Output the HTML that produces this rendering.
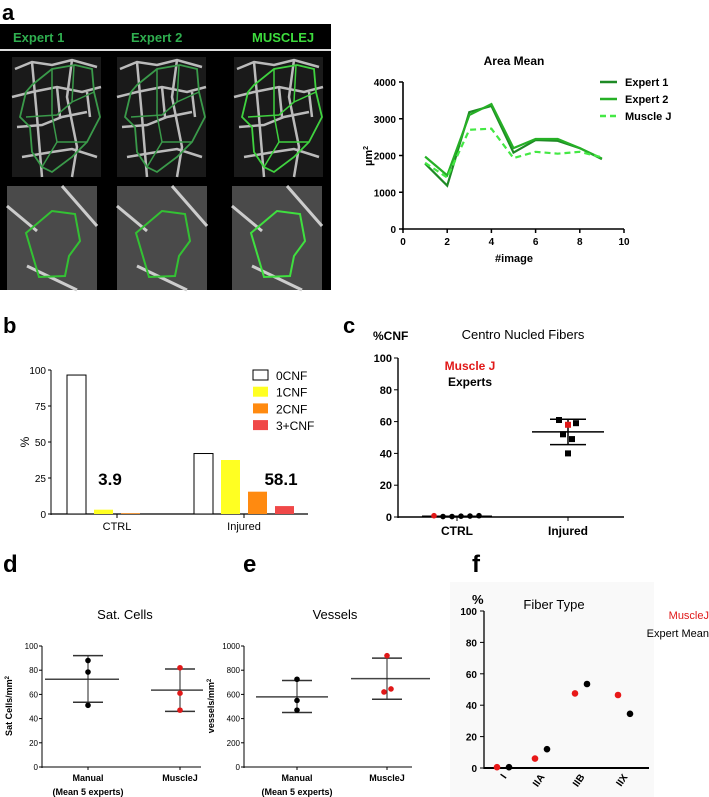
<!DOCTYPE html>
<html><head><meta charset="utf-8">
<style>
html,body{margin:0;padding:0;background:#fff;}
svg{display:block;font-family:"Liberation Sans",sans-serif;}
.n{font-family:"Liberation Sans Narrow","Liberation Sans",sans-serif;}
</style></head>
<body>
<svg id="fig" width="709" height="797" viewBox="0 0 709 797" xmlns="http://www.w3.org/2000/svg">
<g>
<text x="2" y="20" font-size="22" font-weight="bold">a</text>
<rect x="0" y="24" width="331" height="266" fill="#000"/>
<rect x="0" y="49" width="331" height="2" fill="#ddd"/>
<text x="13" y="42" font-size="13" font-weight="bold" fill="#2fae4f">Expert 1</text>
<text x="131" y="42" font-size="13" font-weight="bold" fill="#2fae4f">Expert 2</text>
<text x="252" y="42" font-size="13" font-weight="bold" fill="#3ddc3d">MUSCLEJ</text>
<g id="imgs"></g>
</g>
<g id="charts"></g>
</svg>
<script>
// ---------- DATA ----------
const areaImages=[1,2,3,4,5,6,7,8,9];
const areaExpert1=[1780,1180,3180,3350,2080,2420,2400,2200,1900];
const areaExpert2=[1970,1460,3100,3400,2200,2450,2450,2200,1920];
const areaMuscleJ=[1800,1400,2700,2730,1930,2100,2050,2100,1950];
const areaYTicks=[0,1000,2000,3000,4000];
const areaXTicks=[0,2,4,6,8,10];

const cnfGroups=["CTRL","Injured"];
const cnfSeries=["0CNF","1CNF","2CNF","3+CNF"];
const cnfCtrl=[96.5,3,0.5,0];
const cnfInjured=[42,37.5,15.5,5.5];
const cnfYTicks=[0,25,50,75,100];
const cnfAnnot=["3.9","58.1"];

const cnfPctCtrlExperts=[0.3,0.3,0.5,0.6,0.8];
const cnfPctCtrlMJ=[0.8];
const cnfPctInjExperts=[61,59,52,49,40];
const cnfPctInjMJ=[58];
const cnfPctMean=[0.5,53.5];
const cnfPctSd=[0.3,8];
const cnfPctYTicks=[0,20,40,60,80,100];

const satGroups=["Manual","MuscleJ"];
const satManual=[88,78.5,51];
const satMuscleJ=[82,61,47];
const satMean=[72.5,63.5];
const satErrHi=[92,81];
const satErrLo=[53.5,46];
const satYTicks=[0,20,40,60,80,100];

const vesManual=[725,550,470];
const vesMuscleJ=[920,620,645];
const vesMean=[580,730];
const vesErrHi=[715,900];
const vesErrLo=[450,560];
const vesYTicks=[0,200,400,600,800,1000];

const fiberTypes=["I","IIA","IIB","IIX"];
const fiberMuscleJ=[0.5,6,47.5,46.5];
const fiberExpert=[0.5,12,53.5,34.5];
const fiberYTicks=[0,20,40,60,80,100];

// ---------- helpers ----------
const NS="http://www.w3.org/2000/svg";
const root=document.getElementById('charts');
function mk(tag,attrs,parent,text){const e=document.createElementNS(NS,tag);for(const k in attrs)e.setAttribute(k,attrs[k]);if(text!==undefined)e.textContent=text;(parent||root).appendChild(e);return e;}
function lin(d0,d1,r0,r1){return v=>r0+(v-d0)*(r1-r0)/(d1-d0);}

// ---------- panel a images ----------
const imgs=document.getElementById('imgs');
const topX=[12,117,234];
const greens=["#3a9a4a","#3a9a4a","#3fd23f"];
topX.forEach((x,i)=>{
  const r=mk('rect',{x:x,y:57,width:89,height:120,fill:'#1a1a1a'},imgs);
  
  
  const X=v=>x+v,Y=v=>57+v;
  const segs=[[[3,12],[20,5],[40,8],[60,3],[85,10]],[[0,40],[20,35],[45,30],[70,35],[89,30]],[[5,70],[30,68],[50,60],[75,55]],[[10,100],[40,95],[60,92],[85,100]],[[20,5],[25,60],[30,120]],[[60,3],[55,40],[65,90],[60,120]],[[45,30],[48,60]],[[75,35],[78,60]]];
  segs.forEach(s=>{mk('polyline',{points:s.map(p=>X(p[0])+','+Y(p[1])).join(' '),fill:'none',stroke:'#bbb','stroke-width':2.5},imgs);});
  const g=[[20,28],[40,12],[63,8],[80,12],[82,35],[88,60],[75,85],[60,100],[40,115],[30,110],[20,95],[18,70],[8,60],[14,35]];
  mk('polygon',{points:g.map(p=>X(p[0])+','+Y(p[1])).join(' '),fill:'none',stroke:greens[i],'stroke-width':1.8},imgs);
  mk('polyline',{points:[[14,60],[45,58],[60,45],[82,35]].map(p=>X(p[0])+','+Y(p[1])).join(' '),fill:'none',stroke:greens[i],'stroke-width':1.5},imgs);
  mk('polyline',{points:[[40,12],[40,58],[45,85],[30,110]].map(p=>X(p[0])+','+Y(p[1])).join(' '),fill:'none',stroke:greens[i],'stroke-width':1.5},imgs);
  mk('polyline',{points:[[60,45],[62,8]].map(p=>X(p[0])+','+Y(p[1])).join(' '),fill:'none',stroke:greens[i],'stroke-width':1.5},imgs);
  mk('polyline',{points:[[45,85],[75,85]].map(p=>X(p[0])+','+Y(p[1])).join(' '),fill:'none',stroke:greens[i],'stroke-width':1.5},imgs);
});
const botX=[7,117,232];
botX.forEach((x,i)=>{
  const r=mk('rect',{x:x,y:186,width:90,height:104,fill:'#4a4a4a'},imgs);
  
  
  mk('path',{d:`M${x} ${186+20} L${x+30} ${186+45} M${x+55} ${186} L${x+90} ${186+40} M${x+20} ${186+80} L${x+70} ${186+104}`,stroke:'#ccc','stroke-width':3,fill:'none'},imgs);
  const g=[[19,47],[45,25],[68,28],[73,55],[62,70],[58,90],[32,91]];
  mk('polygon',{points:g.map(p=>(x+p[0])+','+(186+p[1])).join(' '),fill:'none',stroke:i==2?'#3fe03f':'#33c233','stroke-width':2},imgs);
});

// ---------- Area Mean ----------
(function(){
  const g=mk('g',{});
  
  
  const x=lin(0,10,403,624), y=lin(0,4000,229,82);
  mk('text',{x:514,y:65,'text-anchor':'middle','font-size':12,'font-weight':'bold'},g,'Area Mean');
  mk('line',{x1:403,y1:82,x2:403,y2:230,stroke:'#000','stroke-width':1.6},g);
  mk('line',{x1:402,y1:229,x2:624,y2:229,stroke:'#000','stroke-width':1.6},g);
  areaYTicks.forEach(t=>{mk('line',{x1:399,x2:403,y1:y(t),y2:y(t),stroke:'#000','stroke-width':1.5},g);
    const tl=mk('text',{x:396,y:y(t)+4,'text-anchor':'end','font-size':10,'font-weight':'bold'},g,String(t));
    });
  areaXTicks.forEach(t=>{mk('line',{x1:x(t),x2:x(t),y1:229,y2:233,stroke:'#000','stroke-width':1.5},g);
    const tl=mk('text',{x:x(t),y:245,'text-anchor':'middle','font-size':10,'font-weight':'bold'},g,String(t));
    });
  mk('text',{x:514,y:262,'text-anchor':'middle','font-size':11,'font-weight':'bold'},g,'#image');
  const yl=mk('text',{x:0,y:0,transform:'translate(372,156) rotate(-90)','text-anchor':'middle','font-size':11,'font-weight':'bold'},g);
  yl.innerHTML='µm<tspan dy="-4" font-size="7">2</tspan>';
  const series=[[areaExpert1,'#1e8a25',''],[areaExpert2,'#26b026',''],[areaMuscleJ,'#44e844','6,4']];
  series.forEach((s,i)=>{const p=mk('polyline',{points:s[0].map((v,j)=>x(areaImages[j])+','+y(v)).join(' '),fill:'none',stroke:s[1],'stroke-width':2.2,'stroke-dasharray':s[2]||'none'},g);
    });
  const names=['Expert 1','Expert 2','Muscle J'];
  names.forEach((n,i)=>{const ly=82+i*17;mk('line',{x1:600,x2:617,y1:ly,y2:ly,stroke:series[i][1],'stroke-width':2.5,'stroke-dasharray':series[i][2]||'none'},g);
    const t=mk('text',{x:625,y:ly+4,'font-size':11,'font-weight':'bold'},g,n);});
})();

// ---------- Panel b ----------
(function(){
  const g=mk('g',{class:'n'});
  
  
  mk('text',{x:3,y:333,'font-size':22,'font-weight':'bold','font-family':'Liberation Sans'},g,'b');
  const y=lin(0,100,514,370);
  mk('line',{x1:51,y1:370,x2:51,y2:515,stroke:'#000','stroke-width':1},g);
  mk('line',{x1:51,y1:514,x2:308,y2:514,stroke:'#000','stroke-width':1.2},g);
  cnfYTicks.forEach(t=>{mk('line',{x1:48,x2:51,y1:y(t),y2:y(t),stroke:'#000'},g);
    mk('text',{x:46,y:y(t)+4,'text-anchor':'end','font-size':10},g,String(t));});
  mk('text',{x:0,y:0,transform:'translate(29,442) rotate(-90)','text-anchor':'middle','font-size':12},g,'%');
  const cols=['#fff','#ffff22','#ff8a10','#f04848'];
  const groupX=[67,194], bw=19, step=27;
  [cnfCtrl,cnfInjured].forEach((vals,gi)=>{
    vals.forEach((v,si)=>{const bx=groupX[gi]+si*step;const r=mk('rect',{x:bx,y:y(v),width:bw,height:514-y(v),fill:cols[si],stroke:si==0?'#000':'none','stroke-width':1},g);
      });
    mk('line',{x1:groupX[gi]+50,x2:groupX[gi]+50,y1:514,y2:518,stroke:'#000'},g);
    mk('text',{x:groupX[gi]+50,y:530,'text-anchor':'middle','font-size':11},g,cnfGroups[gi]);
  });
  mk('text',{x:110,y:485,'text-anchor':'middle','font-size':17,'font-weight':'bold'},g,cnfAnnot[0]);
  mk('text',{x:281,y:485,'text-anchor':'middle','font-size':17,'font-weight':'bold'},g,cnfAnnot[1]);
  cnfSeries.forEach((s,i)=>{const ly=370+i*16.7;mk('rect',{x:253,y:ly,width:15,height:10,fill:cols[i],stroke:i==0?'#000':'none'},g);
    const t=mk('text',{x:276,y:ly+10,'font-size':12},g,s);});
})();

// ---------- Panel c ----------
(function(){
  const g=mk('g',{class:'n'});
  
  
  mk('text',{x:343,y:333,'font-size':22,'font-weight':'bold','font-family':'Liberation Sans'},g,'c');
  mk('text',{x:373,y:340,'font-size':12,'font-weight':'bold'},g,'%CNF');
  mk('text',{x:523,y:339,'text-anchor':'middle','font-size':13,'font-family':'Liberation Sans'},g,'Centro Nucled Fibers');
  const y=lin(0,100,517,358);
  const cx=[457,568];
  mk('line',{x1:398,y1:358,x2:398,y2:518,stroke:'#000','stroke-width':1.4},g);
  mk('line',{x1:398,y1:517,x2:624,y2:517,stroke:'#000','stroke-width':1.6},g);
  cnfPctYTicks.forEach(t=>{mk('line',{x1:394,x2:398,y1:y(t),y2:y(t),stroke:'#000'},g);
    mk('text',{x:392,y:y(t)+4,'text-anchor':'end','font-size':11,'font-weight':'bold'},g,String(t));});
  cnfGroups.forEach((n,i)=>{mk('line',{x1:cx[i],x2:cx[i],y1:517,y2:521,stroke:'#000'},g);
    mk('text',{x:cx[i],y:535,'text-anchor':'middle','font-size':12,'font-weight':'bold'},g,n);});
  mk('text',{x:470,y:370,'text-anchor':'middle','font-size':12,'font-weight':'bold',fill:'#e01818'},g,'Muscle J');
  mk('text',{x:470,y:386,'text-anchor':'middle','font-size':12,'font-weight':'bold'},g,'Experts');
  cnfPctMean.forEach((m,i)=>{const w=i==0?35:36;
    mk('line',{x1:cx[i]-w,x2:cx[i]+w,y1:y(m),y2:y(m),stroke:'#000','stroke-width':1.5},g);
    if(i==1){mk('line',{x1:cx[i],x2:cx[i],y1:y(m+cnfPctSd[i]),y2:y(m-cnfPctSd[i]),stroke:'#000','stroke-width':1.5},g);
      [m+cnfPctSd[i],m-cnfPctSd[i]].forEach(v=>mk('line',{x1:cx[i]-18,x2:cx[i]+18,y1:y(v),y2:y(v),stroke:'#000','stroke-width':1.5},g));}
  });
  const ctrlOff=[-5,4,13,22,31];
  cnfPctCtrlExperts.forEach((v,j)=>{const c=mk('circle',{cx:cx[0]+ctrlOff[j]-9,cy:y(v),r:2.8,fill:'#000'},g);});
  cnfPctCtrlMJ.forEach(v=>{const c=mk('circle',{cx:cx[0]-23,cy:y(v),r:2.8,fill:'#e01818'},g);});
  const injOff=[-9,8,-5,4,0];
  cnfPctInjExperts.forEach((v,j)=>{const c=mk('rect',{x:cx[1]+injOff[j]-3,y:y(v)-3,width:6,height:6,fill:'#000'},g);});
  cnfPctInjMJ.forEach(v=>{const c=mk('rect',{x:cx[1]-3,y:y(v)-3,width:6,height:6,fill:'#e01818'},g);});
})();

// ---------- Panel d & e ----------
function dotPlot(o){
  const g=mk('g',{});
  
  
  mk('text',{x:o.lx,y:572,'font-size':24,'font-weight':'bold'},g,o.letter);
  mk('text',{x:o.tx,y:619,'text-anchor':'middle','font-size':13,class:'n'},g,o.title);
  const y=lin(0,o.max,767,646);
  mk('line',{x1:o.ax,y1:646,x2:o.ax,y2:768,stroke:'#000'},g);
  mk('line',{x1:o.ax,y1:767,x2:o.axEnd,y2:767,stroke:'#000'},g);
  o.ticks.forEach(t=>{mk('line',{x1:o.ax-3,x2:o.ax,y1:y(t),y2:y(t),stroke:'#000'},g);
    mk('text',{x:o.ax-4,y:y(t)+3,'text-anchor':'end','font-size':8,class:'n'},g,String(t));});
  const yl=mk('text',{x:0,y:0,transform:`translate(${o.ax-30},706) rotate(-90)`,'text-anchor':'middle','font-size':9,'font-weight':'bold'},g);
  yl.innerHTML=o.ylab+'<tspan dy="-3" font-size="6">2</tspan>';
  o.cx.forEach((c,i)=>{
    mk('line',{x1:c+o.mw[i][0],x2:c+o.mw[i][1],y1:y(o.mean[i]),y2:y(o.mean[i]),stroke:'#444','stroke-width':1.5},g);
    mk('line',{x1:c,x2:c,y1:y(o.hi[i]),y2:y(o.lo[i]),stroke:'#222','stroke-width':1},g);
    [o.hi[i],o.lo[i]].forEach(v=>mk('line',{x1:c-15,x2:c+15,y1:y(v),y2:y(v),stroke:'#333','stroke-width':1.5},g));
    o.pts[i].forEach((v,j)=>{const dx=o.off[i][j];const p=mk('circle',{cx:c+dx,cy:y(v),r:2.8,fill:i==0?'#000':'#e01818'},g);
      });
    mk('line',{x1:c,x2:c,y1:767,y2:770,stroke:'#000'},g);
    mk('text',{x:c,y:781,'text-anchor':'middle','font-size':9,'font-weight':'bold'},g,satGroups[i]);
  });
  mk('text',{x:o.cx[0],y:795,'text-anchor':'middle','font-size':9,'font-weight':'bold'},g,'(Mean 5 experts)');
}
dotPlot({name:'sat-cells-chart',letter:'d',lx:3,title:'Sat. Cells',tx:125,max:100,ax:42,axEnd:201,ticks:satYTicks,ylab:'Sat Cells/mm',
  cx:[88,180],mw:[[-43,31],[-29,23]],mean:satMean,hi:satErrHi,lo:satErrLo,pts:[satManual,satMuscleJ],off:[[0,0,0],[0,0,0]]});
dotPlot({name:'vessels-chart',letter:'e',lx:243,title:'Vessels',tx:335,max:1000,ax:244,axEnd:412,ticks:vesYTicks,ylab:'vessels/mm',
  cx:[297,387],mw:[[-41,31],[-36,43]],mean:vesMean,hi:vesErrHi,lo:vesErrLo,pts:[vesManual,vesMuscleJ],off:[[0,0,0],[0,-3,4]]});

// ---------- Panel f ----------
(function(){
  const g=mk('g',{});
  
  
  mk('text',{x:472,y:572,'font-size':24,'font-weight':'bold'},g,'f');
  mk('rect',{x:450,y:582,width:204,height:215,fill:'#f9f9f9'},g);
  mk('text',{x:472,y:604,'font-size':13,'font-weight':'bold',class:'n'},g,'%');
  mk('text',{x:554,y:609,'text-anchor':'middle','font-size':13,class:'n'},g,'Fiber Type');
  mk('text',{x:709,y:619,'text-anchor':'end','font-size':11,fill:'#e01818',class:'n'},g,'MuscleJ');
  mk('text',{x:709,y:637,'text-anchor':'end','font-size':11,class:'n'},g,'Expert Mean');
  const y=lin(0,100,768,611);
  const cx=[503,541,581,624];
  mk('line',{x1:484,y1:611,x2:484,y2:769,stroke:'#000','stroke-width':1.3},g);
  mk('line',{x1:484,y1:768,x2:649,y2:768,stroke:'#000','stroke-width':2},g);
  fiberYTicks.forEach(t=>{mk('line',{x1:480,x2:484,y1:y(t),y2:y(t),stroke:'#000'},g);
    mk('text',{x:477,y:y(t)+4,'text-anchor':'end','font-size':10,'font-weight':'bold',class:'n'},g,String(t));});
  fiberTypes.forEach((n,i)=>{
    mk('text',{x:0,y:0,transform:`translate(${cx[i]+4},777) rotate(-55)`,'text-anchor':'end','font-size':10,'font-weight':'bold',class:'n'},g,n);
    const r=mk('circle',{cx:cx[i]-6,cy:y(fiberMuscleJ[i]),r:3.3,fill:'#e81818'},g);
    
    const b=mk('circle',{cx:cx[i]+6,cy:y(fiberExpert[i]),r:3.3,fill:'#000'},g);
    
  });
})();
</script>
</body></html>
